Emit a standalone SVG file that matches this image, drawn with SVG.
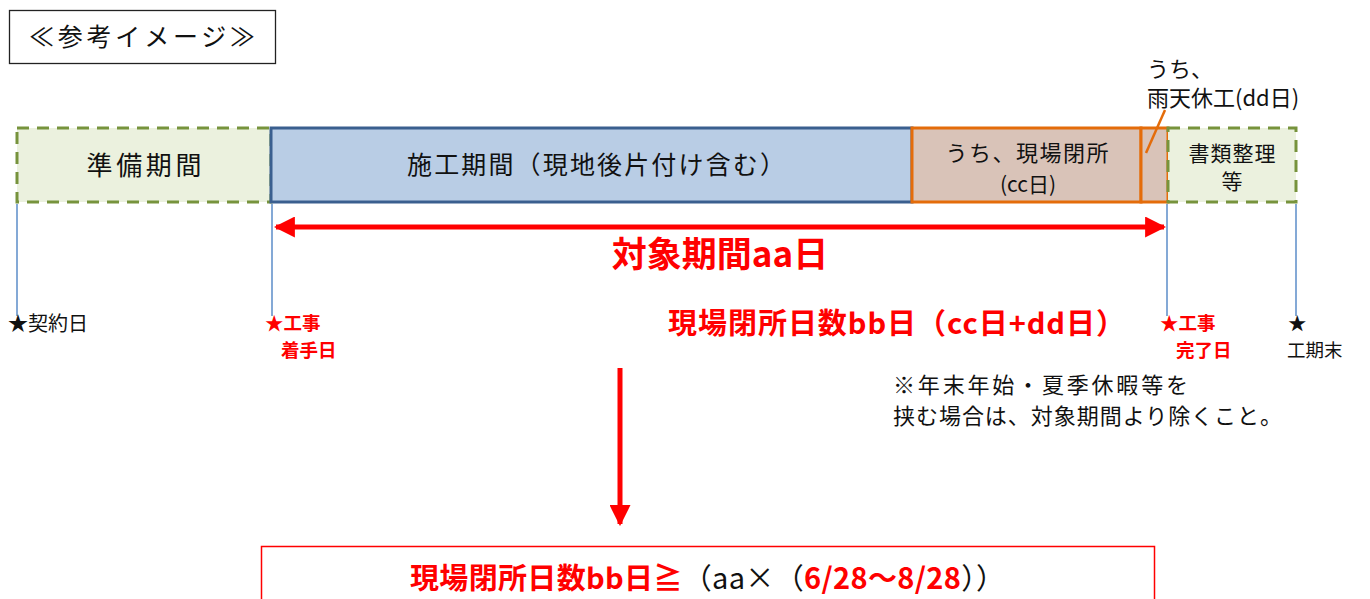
<svg xmlns="http://www.w3.org/2000/svg" width="1370" height="599" viewBox="0 0 1370 599">
<defs>
<style>
.jp{font-family:"Noto Sans CJK JP","Liberation Sans",sans-serif;}
.blk{fill:#111;}
.red{fill:#FF0000;font-weight:bold;}
.green{fill:#EBF1DE;stroke:#77933C;stroke-width:3;stroke-dasharray:12 8;}
.blue{fill:#B9CDE5;stroke:#3A5F8F;stroke-width:3;}
.orange{fill:#D9C3B8;stroke:#E46C0A;stroke-width:3;}
.tick{stroke:#5B8CC8;stroke-width:1.5;}
</style>
<marker id="ah" viewBox="0 0 10 10" refX="9" refY="5" markerWidth="4.2" markerHeight="4.2" orient="auto-start-reverse" markerUnits="strokeWidth">
<path d="M0,0 L10,5 L0,10 Z" fill="#FF0000"/>
</marker>
</defs>
<rect width="1370" height="599" fill="#fff"/>

<g id="title">
<rect x="9.5" y="10.5" width="266" height="53" fill="#fff" stroke="#222" stroke-width="1.3"/>
<text x="142" y="46" class="jp blk" font-size="25" text-anchor="middle" textLength="226">≪参考イメージ≫</text>
</g>

<g id="prep">
<rect x="17" y="128" width="254" height="74" class="green"/>
<text x="144" y="175" class="jp blk" font-size="26" text-anchor="middle" textLength="115">準備期間</text>
</g>

<g id="construction">
<rect x="271" y="128" width="641" height="74" class="blue"/>
<text x="596" y="174" class="jp blk" font-size="25" text-anchor="middle" textLength="378">施工期間（現地後片付け含む）</text>
</g>

<g id="closure">
<rect x="912" y="128" width="229" height="74" class="orange"/>
<text class="jp blk" text-anchor="middle"><tspan x="1027" y="161" font-size="22" textLength="163">うち、現場閉所</tspan><tspan x="1028" y="192" font-size="21">(cc日)</tspan></text>
</g>

<g id="rain">
<rect x="1141" y="128" width="27" height="74" class="orange"/>
<line x1="1146" y1="153" x2="1165" y2="110" stroke="#E46C0A" stroke-width="2.5"/>
<text class="jp blk" font-size="22"><tspan x="1147" y="77">うち、</tspan><tspan x="1147" y="106">雨天休工(dd日)</tspan></text>
</g>

<g id="docs">
<rect x="1168" y="128" width="128" height="74" class="green"/>
<text class="jp blk" font-size="21" text-anchor="middle"><tspan x="1232" y="161" textLength="87">書類整理</tspan><tspan x="1232" y="189">等</tspan></text>
</g>

<g id="connectors">
<line x1="17" y1="204" x2="17" y2="316" class="tick"/>
<line x1="272" y1="204" x2="272" y2="316" class="tick"/>
<line x1="1167" y1="204" x2="1167" y2="316" class="tick"/>
<line x1="1296" y1="204" x2="1296" y2="316" class="tick"/>
<line x1="276" y1="227" x2="1164" y2="227" stroke="#FF0000" stroke-width="5" marker-start="url(#ah)" marker-end="url(#ah)"/>
<line x1="620" y1="368" x2="620" y2="524" stroke="#FF0000" stroke-width="5" marker-end="url(#ah)"/>
</g>

<g id="period-label">
<text x="720" y="267" class="jp red" font-size="35" text-anchor="middle">対象期間aa日</text>
</g>

<g id="contract">
<text x="8" y="331" class="jp blk" font-size="20">★契約日</text>
</g>
<g id="start">
<text class="jp red" font-size="18.5"><tspan x="265" y="330">★工事</tspan><tspan x="281" y="357">着手日</tspan></text>
</g>
<g id="closed-days">
<text x="668" y="334" class="jp red" font-size="29" textLength="457">現場閉所日数bb日（cc日+dd日）</text>
</g>
<g id="end">
<text class="jp red" font-size="18.5"><tspan x="1160" y="330">★工事</tspan><tspan x="1176" y="357">完了日</tspan></text>
</g>
<g id="term-end">
<text class="jp blk" font-size="18.5"><tspan x="1288" y="330">★</tspan><tspan x="1287" y="357">工期末</tspan></text>
</g>

<g id="note">
<text class="jp blk" font-size="22"><tspan x="893" y="393" textLength="295">※年末年始・夏季休暇等を</tspan><tspan x="893" y="424" textLength="389">挟む場合は、対象期間より除くこと。</tspan></text>
</g>

<g id="formula">
<rect x="261.5" y="546.5" width="893" height="60" fill="#fff" stroke="#FF0000" stroke-width="1.5"/>
<text x="410" y="589" class="jp" font-size="29" textLength="595"><tspan class="red">現場閉所日数bb日≧</tspan><tspan fill="#111">（aa×（</tspan><tspan class="red">6/28〜8/28</tspan><tspan fill="#111">））</tspan></text>
</g>
</svg>
